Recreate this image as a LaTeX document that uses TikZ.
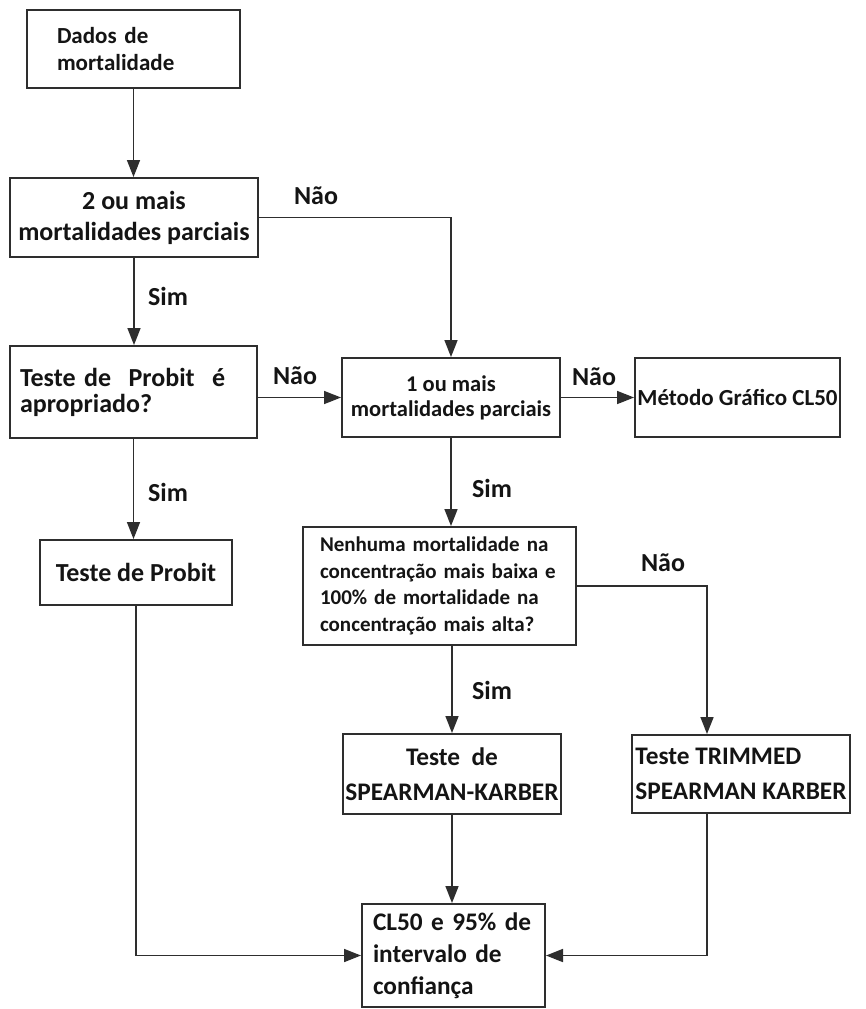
\documentclass[tikz,border=0pt]{standalone}
\usepackage{fontspec}
\setmainfont{Carlito}
\usepackage{xcolor}
\definecolor{linegray}{HTML}{2E2E2E}
\definecolor{inkblack}{HTML}{141414}
\usepackage{tikz}
\usetikzlibrary{arrows.meta,positioning,calc}

\begin{document}
\begin{tikzpicture}[x=1pt,y=-1pt,
  box/.style={draw=linegray, line width=2pt, text=inkblack, inner ysep=2pt, inner xsep=2pt},
  lbl/.style={text=inkblack, font=\bfseries\fontsize{26}{30}\selectfont, inner sep=0pt},
  arr/.style={draw=linegray, line width=1.7pt, -{Triangle[length=17pt,width=13pt]}},
  link/.style={draw=linegray, line width=1.7pt}]
  \useasboundingbox (0,0) rectangle (866,1009);
  \fill[white] (0,0) rectangle (866,1009);

  % left column
  \node[box, minimum width=213pt, minimum height=78pt, inner xsep=30pt, text width=153pt, align=left,
        font=\bfseries\fontsize{23}{27}\selectfont] (dados) at (133.5,49) {Dados de\\mortalidade};
  \node[box, minimum width=248pt, minimum height=79pt, align=center,
        font=\bfseries\fontsize{26}{31}\selectfont] (parc2) at (134,217.5) {2 ou mais\\mortalidades parciais};
  \node[box, minimum width=247pt, minimum height=92pt, inner xsep=10pt, text width=227pt, align=left,
        font=\bfseries\fontsize{26}{26}\selectfont] (apropr) at (133.5,392) {Teste de \ Probit \ é\\apropriado?};
  \node[box, minimum width=192pt, minimum height=65pt,
        font=\bfseries\fontsize{26}{30}\selectfont] (probit) at (136,572.5) {Teste de Probit};

  % middle and right
  \node[box, minimum width=218pt, minimum height=79pt, align=center,
        font=\bfseries\fontsize{22.5}{25}\selectfont] (parc1) at (451,397.5) {1 ou mais\\mortalidades parciais};
  \node[box, minimum width=205pt, minimum height=79pt,
        font=\bfseries\fontsize{23}{27}\selectfont] (grafico) at (737.5,397.5) {Método Gráfico CL50};
  \node[box, minimum width=273pt, minimum height=118pt, inner xsep=17pt, text width=239pt, align=left,
        font=\bfseries\fontsize{21}{26.7}\selectfont] (nenhuma) at (439.5,586)
        {Nenhuma mortalidade na\\concentração mais baixa e\\100\% de mortalidade na\\concentração mais alta?};
  \node[box, minimum width=218pt, minimum height=80pt, inner xsep=1pt, align=center,
        font=\bfseries\fontsize{25.3}{35}\selectfont] (spk) at (452,774) {Teste \ de\\SPEARMAN-KARBER};
  \node[box, minimum width=218pt, minimum height=78pt, inner xsep=1pt, align=left,
        font=\bfseries\fontsize{25.3}{35}\selectfont] (trimmed) at (741,774) {Teste TRIMMED\\SPEARMAN KARBER};
  \node[box, minimum width=183pt, minimum height=103pt, inner xsep=11pt, text width=161pt, align=left,
        font=\bfseries\fontsize{25.3}{32}\selectfont] (cl50) at (453.5,955.5)
        {CL50 e 95\% de\\intervalo de\\confiança};

  % branch labels
  \node[lbl] (nao1) at (316,196) {Não};
  \node[lbl] (sim1) at (168,296) {Sim};
  \node[lbl] (nao2) at (295,376) {Não};
  \node[lbl] (nao3) at (594,377) {Não};
  \node[lbl] (sim2) at (168,492) {Sim};
  \node[lbl] (sim3) at (492,488) {Sim};
  \node[lbl] (nao4) at (663,563) {Não};
  \node[lbl] (sim4) at (492,690) {Sim};

  \coordinate (rcol) at ($(trimmed.north)+(-34,0)$);

  % connectors
  \draw[arr] (dados.south) -- (dados.south |- parc2.north);
  \draw[arr] (parc2.east) -| (parc1.north);
  \draw[arr] (parc2.south) -- (parc2.south |- apropr.north);
  \draw[arr] (apropr.east |- parc1.west) -- (parc1.west);
  \draw[arr] (parc1.east) -- (grafico.west);
  \draw[arr] (apropr.south) -- (apropr.south |- probit.north);
  \draw[arr] (parc1.south) -- (parc1.south |- nenhuma.north);
  \draw[arr] (nenhuma.east) -| (rcol);
  \draw[arr] (spk.north |- nenhuma.south) -- (spk.north);
  \draw[arr] (spk.south) -- (spk.south |- cl50.north);
  \draw[arr] (probit.south) |- (cl50.west);
  \draw[arr] (trimmed.south -| rcol) |- (cl50.east);
\end{tikzpicture}
\end{document}
